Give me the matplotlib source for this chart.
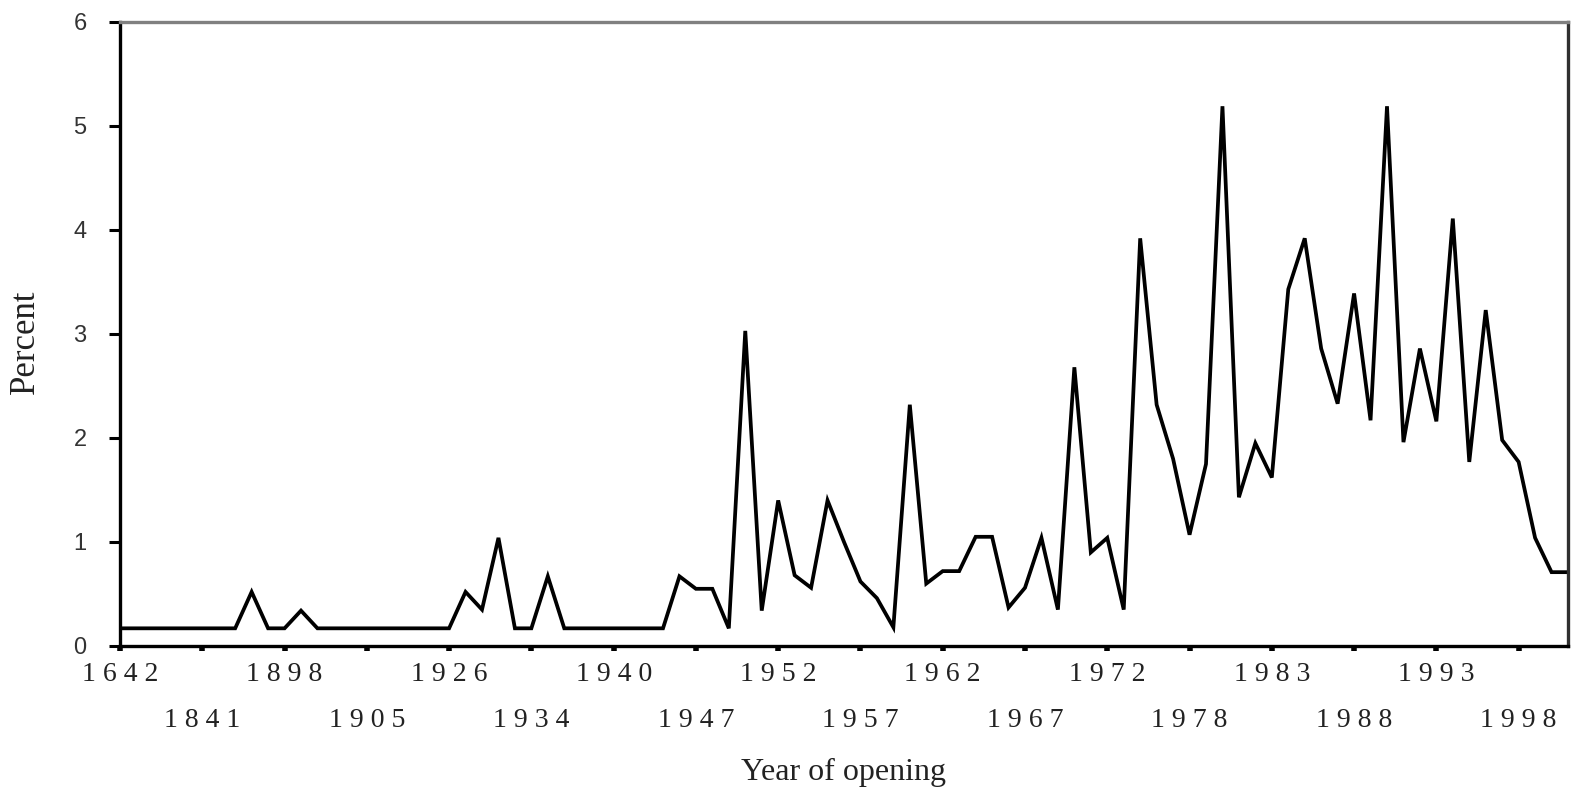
import numpy as np
import matplotlib
matplotlib.use('Agg')
import matplotlib.pyplot as plt

# share of openings per year (percent), one value per year with openings
percent = [
    0.17, 0.17, 0.17, 0.17, 0.17, 0.17, 0.17, 0.17, 0.52, 0.17,
    0.17, 0.34, 0.17, 0.17, 0.17, 0.17, 0.17, 0.17, 0.17, 0.17,
    0.17, 0.52, 0.35, 1.04, 0.17, 0.17, 0.67, 0.17, 0.17, 0.17,
    0.17, 0.17, 0.17, 0.17, 0.67, 0.55, 0.55, 0.17, 3.03, 0.34,
    1.40, 0.68, 0.56, 1.40, 1.00, 0.62, 0.46, 0.18, 2.32, 0.60,
    0.72, 0.72, 1.05, 1.05, 0.37, 0.56, 1.04, 0.35, 2.68, 0.90,
    1.04, 0.35, 3.92, 2.32, 1.80, 1.07, 1.75, 5.19, 1.43, 1.95,
    1.62, 3.43, 3.92, 2.86, 2.33, 3.39, 2.17, 5.19, 1.96, 2.86,
    2.16, 4.11, 1.77, 3.23, 1.98, 1.77, 1.04, 0.71, 0.71,
]

# year labels shown on the axis (every fifth category)
tick_years = ['1642', '1841', '1898', '1905', '1926', '1934', '1940', '1947', '1952',
              '1957', '1962', '1967', '1972', '1978', '1983', '1988', '1993', '1998']

y_ticks = [0, 1, 2, 3, 4, 5, 6]

x = np.arange(len(percent))
tick_pos = np.arange(0, 5 * len(tick_years), 5)

fig = plt.figure(figsize=(15.77, 7.93), dpi=100)
ax = fig.add_axes([120 / 1577, 1 - 646 / 793, (1568 - 120) / 1577, (646 - 22) / 793])

ax.plot(x, percent, color='black', linewidth=2.7, solid_joinstyle='miter')

ax.set_xlim(0, len(percent) - 1)
ax.set_ylim(0, 6)

# spaced-out digits like the original print
spaced = [' '.join(y) for y in tick_years]
ax.set_xticks(tick_pos[0::2], spaced[0::2])
ax.set_xticks(tick_pos[1::2], spaced[1::2], minor=True)
for lab in ax.get_xticklabels(minor=False) + ax.get_xticklabels(minor=True):
    lab.set_family('Liberation Serif')
    lab.set_fontsize(20)
    lab.set_color('#222222')
ax.tick_params(axis='x', which='both', direction='out', length=3.5, width=4,
               color='black')
ax.tick_params(axis='x', which='major', pad=8)
ax.tick_params(axis='x', which='minor', pad=41)

ax.set_yticks(y_ticks)
ax.set_yticklabels([str(v) for v in y_ticks], family='Liberation Sans',
                   fontsize=17, color='#333333')
ax.tick_params(axis='y', direction='out', length=8, width=2.2, pad=16, color='black')

for side in ['left', 'bottom']:
    ax.spines[side].set_linewidth(2.4)
    ax.spines[side].set_color('black')
ax.spines['top'].set_linewidth(2.4)
ax.spines['top'].set_color('#808080')
ax.spines['right'].set_linewidth(2.4)
ax.spines['right'].set_color('#303030')

fig.text(843 / 1577, 1 - 772 / 793, 'Year of opening', family='Liberation Serif',
         fontsize=23, ha='center', va='center', color='#222222')
fig.text(25 / 1577, 1 - 342 / 793, 'Percent', family='Liberation Serif',
         fontsize=25, rotation=90, ha='center', va='center', color='#222222')

fig.savefig('out.png', dpi=100)
